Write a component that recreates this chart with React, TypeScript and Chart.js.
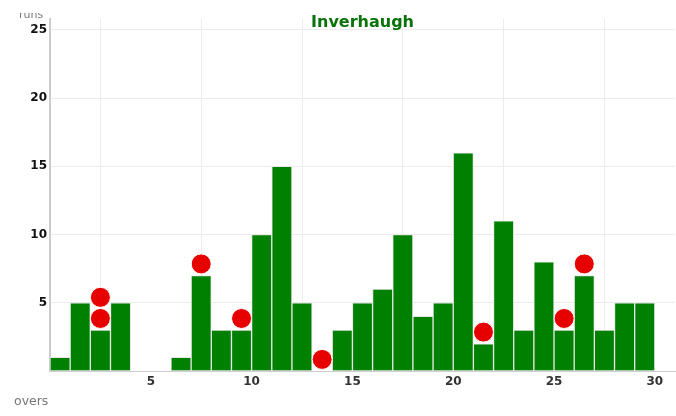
import React, { useEffect, useRef } from "react";
import { Chart, registerables } from "chart.js";

Chart.register(...registerables);

const title = "Inverhaugh";
const overs = [1, 2, 3, 4, 5, 6, 7, 8, 9, 10, 11, 12, 13, 14, 15, 16, 17, 18, 19, 20, 21, 22, 23, 24, 25, 26, 27, 28, 29, 30];
const runs = [1, 5, 3, 5, 0, 0, 1, 7, 3, 3, 10, 15, 5, 0, 3, 5, 6, 10, 4, 5, 16, 2, 11, 3, 8, 3, 7, 3, 5, 5];
const wicketOvers = [3, 3, 8, 10, 14, 22, 26, 27];
const wicketMarkerY = [3.85, 5.4, 7.85, 3.85, 0.85, 2.85, 3.85, 7.85];
const xTicks = [5, 10, 15, 20, 25, 30];
const yTicks = [5, 10, 15, 20, 25];
const xLabel = "overs";
const yLabel = "runs";

const FONT = "'DejaVu Sans', sans-serif";

export default function App() {
  const ref = useRef<HTMLCanvasElement | null>(null);

  useEffect(() => {
    document.body.style.margin = "0";
    const canvas = ref.current;
    if (!canvas) return;

    const labelsPlugin = {
      id: "labelsPlugin",
      afterDraw(chart: any) {
        const ctx = chart.ctx;
        const area = chart.chartArea;
        ctx.save();
        // title with white backing
        ctx.font = `bold 16px ${FONT}`;
        const w = ctx.measureText(title).width;
        const cx = (area.left + area.right) / 2;
        ctx.fillStyle = "#ffffff";
        ctx.fillRect(cx - w / 2 - 4, 8, w + 8, 21);
        ctx.fillStyle = "#0a720a";
        ctx.textAlign = "center";
        ctx.textBaseline = "alphabetic";
        ctx.fillText(title, cx, 27);
        // axis labels
        ctx.font = `12.5px ${FONT}`;
        ctx.fillStyle = "#777777";
        ctx.textAlign = "left";
        ctx.fillText(xLabel, 14, 405);
        ctx.beginPath();
        ctx.rect(0, 13, 60, 20);
        ctx.clip();
        ctx.font = `11px ${FONT}`;
        ctx.fillText(yLabel, 19, 17.5);
        ctx.restore();
      },
    };

    const chart = new Chart(canvas, {
      type: "bar",
      data: {
        datasets: [
          {
            type: "scatter",
            data: wicketOvers.map((o, i) => ({ x: o - 0.5, y: wicketMarkerY[i] })),
            backgroundColor: "#e60000",
            borderColor: "#ffffff",
            borderWidth: 1,
            pointRadius: 10,
            order: 0,
            clip: false,
          } as any,
          {
            type: "bar",
            data: overs.map((o, i) => ({ x: o - 0.5, y: runs[i] === 0 ? null : runs[i] })),
            backgroundColor: "#008000",
            borderColor: "#e6e6e6",
            borderWidth: 1,
            borderSkipped: false,
            barPercentage: 1,
            categoryPercentage: 1,
            order: 1,
          } as any,
        ],
      },
      options: {
        responsive: false,
        animation: false,
        devicePixelRatio: 1,
        layout: { autoPadding: false, padding: { top: 19, right: 1, left: 0, bottom: 0 } },
        plugins: {
          legend: { display: false },
          tooltip: { enabled: false },
          title: { display: false },
        },
        scales: {
          x: {
            type: "linear",
            min: 0,
            max: 31,
            offset: false,
            afterBuildTicks: (scale: any) => {
              scale.ticks = xTicks.map((v) => ({ value: v }));
            },
            afterFit: (scale: any) => {
              scale.height = 45;
              scale.paddingRight = 0;
              scale.paddingLeft = 0;
            },
            grid: { color: "#ececec", lineWidth: 1, drawTicks: false },
            border: { color: "#cccccc", width: 1 },
            ticks: {
              font: { family: FONT, size: 12, weight: "bold" },
              color: "#333333",
              padding: 4,
              maxRotation: 0,
              autoSkip: false,
            },
          },
          y: {
            type: "linear",
            min: 0,
            max: 25.8,
            afterBuildTicks: (scale: any) => {
              scale.ticks = yTicks.map((v) => ({ value: v }));
            },
            afterFit: (scale: any) => {
              scale.width = 50;
              scale.paddingTop = 0;
              scale.paddingBottom = 0;
            },
            grid: { color: "#ececec", lineWidth: 1, drawTicks: false },
            border: { color: "#cccccc", width: 2 },
            ticks: {
              font: { family: FONT, size: 12, weight: "bold" },
              color: "#111111",
              padding: 3,
            },
          },
        },
      },
      plugins: [labelsPlugin],
    });

    return () => chart.destroy();
  }, []);

  return (
    <div style={{ width: 676, height: 416 }}>
      <canvas ref={ref} width={676} height={416} style={{ display: "block" }} />
    </div>
  );
}
